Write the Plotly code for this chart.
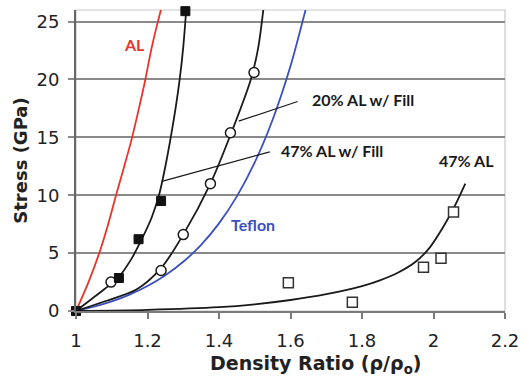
import plotly.graph_objects as go

# ---- data ----
al_x = [1, 1.035, 1.065, 1.09, 1.112, 1.135, 1.157, 1.176, 1.194, 1.21, 1.225, 1.24]
al_y = [0, 2.5, 5, 7.5, 10, 12.5, 15, 17.5, 20, 22.5, 24.5, 26.3]

fill47_line_x = [1, 1.04, 1.08, 1.12, 1.155, 1.187, 1.212, 1.233, 1.25, 1.265, 1.28, 1.29, 1.3, 1.309]
fill47_line_y = [0, 0.95, 1.9, 2.95, 4.5, 6.4, 8.1, 10.1, 12.5, 15, 17.8, 20, 22.8, 26.3]
fill47_pts_x = [1, 1.12, 1.175, 1.238, 1.306]
fill47_pts_y = [0, 2.85, 6.2, 9.5, 25.9]

fill20_line_x = [1, 1.077, 1.169, 1.238, 1.30, 1.376, 1.432, 1.489, 1.51, 1.525]
fill20_line_y = [0, 0.8, 1.85, 3.7, 6.6, 11.0, 15.2, 20.0, 22.8, 26.3]
fill20_pts_x = [1.098, 1.238, 1.30, 1.376, 1.432, 1.498]
fill20_pts_y = [2.5, 3.5, 6.6, 11.0, 15.4, 20.6]

teflon_x = [1, 1.05, 1.1, 1.15, 1.2, 1.25, 1.3, 1.35, 1.4, 1.45, 1.5, 1.55, 1.6, 1.645]
teflon_y = [0, 0.37, 0.83, 1.42, 2.16, 3.09, 4.25, 5.72, 7.57, 9.9, 12.83, 16.52, 21.16, 26.36]

al47_line_x = [1, 1.2, 1.4, 1.5, 1.6, 1.7, 1.8, 1.85, 1.9, 1.95, 1.99, 2.03, 2.06, 2.089]
al47_line_y = [0, 0.1, 0.33, 0.58, 0.95, 1.45, 2.15, 2.65, 3.3, 4.25, 5.5, 7.4, 9.1, 11.0]
al47_pts_x = [1.594, 1.773, 1.972, 2.021, 2.056]
al47_pts_y = [2.45, 0.75, 3.77, 4.55, 8.55]

x_ticks = [1, 1.2, 1.4, 1.6, 1.8, 2, 2.2]
x_tick_labels = ["1", "1.2", "1.4", "1.6", "1.8", "2", "2.2"]
y_ticks = [0, 5, 10, 15, 20, 25]

fig = go.Figure()

fig.add_trace(go.Scatter(x=al_x, y=al_y, mode="lines", line=dict(color="#e8352c", width=1.8, shape="spline", smoothing=0.8), showlegend=False))
fig.add_trace(go.Scatter(x=teflon_x, y=teflon_y, mode="lines", line=dict(color="#3b4fbf", width=1.8, shape="spline", smoothing=0.8), showlegend=False))
fig.add_trace(go.Scatter(x=fill47_line_x, y=fill47_line_y, mode="lines", line=dict(color="#1a1a1a", width=1.8, shape="spline", smoothing=0.8), showlegend=False))
fig.add_trace(go.Scatter(x=fill20_line_x, y=fill20_line_y, mode="lines", line=dict(color="#1a1a1a", width=1.8, shape="spline", smoothing=0.8), showlegend=False))
fig.add_trace(go.Scatter(x=al47_line_x, y=al47_line_y, mode="lines", line=dict(color="#1a1a1a", width=1.8, shape="spline", smoothing=0.8), showlegend=False))

fig.add_trace(go.Scatter(x=fill20_pts_x, y=fill20_pts_y, mode="markers", cliponaxis=False,
                         marker=dict(symbol="circle", size=10, color="white", line=dict(color="#1a1a1a", width=1.5)), showlegend=False))
fig.add_trace(go.Scatter(x=fill47_pts_x, y=fill47_pts_y, mode="markers", cliponaxis=False,
                         marker=dict(symbol="square", size=9, color="#111111", line=dict(color="#111111", width=1)), showlegend=False))
fig.add_trace(go.Scatter(x=al47_pts_x, y=al47_pts_y, mode="markers", cliponaxis=False,
                         marker=dict(symbol="square", size=10, color="white", line=dict(color="#333333", width=1.5)), showlegend=False))

ann_font = dict(family="Lato", size=16, color="#1a1a1a")
annotations = [
    dict(x=1.165, y=23.0, text="<b>AL</b>", font=dict(family="Lato", size=16, color="#e8352c")),
    dict(x=1.803, y=18.3, text="<b>20% AL w/ Fill</b>", font=ann_font),
    dict(x=1.716, y=13.9, text="<b>47% AL w/ Fill</b>", font=ann_font),
    dict(x=2.091, y=13.0, text="<b>47% AL</b>", font=ann_font),
    dict(x=1.494, y=7.5, text="<b>Teflon</b>", font=dict(family="Lato", size=16, color="#3b4fbf")),
]
for a in annotations:
    a.update(showarrow=False, xref="x", yref="y")
annotations.append(dict(
    x=0.558, y=-0.178, xref="paper", yref="paper", showarrow=False,
    xanchor="center", yanchor="middle",
    text="<b>Density Ratio (ρ/ρ<sub>o</sub>)</b>",
    font=dict(family="DejaVu Sans", size=19, color="#222222"),
))

shapes = [
    dict(type="line", xref="x", yref="y", x0=1.455, y0=16.4, x1=1.62, y1=18.1, line=dict(color="#1a1a1a", width=1.2)),
    dict(type="line", xref="x", yref="y", x0=1.24, y0=11.2, x1=1.542, y1=13.75, line=dict(color="#1a1a1a", width=1.2)),
    dict(type="rect", xref="paper", yref="paper", x0=0, y0=0, x1=1, y1=1, line=dict(color="#c8c8c8", width=1.2), layer="below"),
]

fig.update_layout(
    width=529, height=377,
    margin=dict(l=76, r=16, t=10, b=66),
    paper_bgcolor="white", plot_bgcolor="white",
    font=dict(family="DejaVu Sans", size=18, color="#222222"),
    annotations=annotations, shapes=shapes,
    showlegend=False,
)
fig.update_xaxes(
    range=[1, 2.2], tickvals=x_ticks, ticktext=x_tick_labels,
    showgrid=False, zeroline=False, showline=True, linecolor="#7a7a7a", linewidth=2,
    ticks="outside", ticklen=6, tickcolor="#7a7a7a", tickwidth=1.5, ticklabelstandoff=6,
    tickfont=dict(family="DejaVu Sans", size=18, color="#222222"),
)
fig.update_yaxes(
    range=[0, 26], tickvals=y_ticks,
    showgrid=True, gridcolor="#8a8a8a", gridwidth=2, zeroline=False,
    showline=True, linecolor="#666666", linewidth=2,
    ticks="outside", ticklen=6, tickcolor="#8a8a8a", tickwidth=2, ticklabelstandoff=5,
    tickfont=dict(family="DejaVu Sans", size=18, color="#222222"),
    title=dict(text="<b>Stress (GPa)</b>", font=dict(family="DejaVu Sans", size=18, color="#222222"), standoff=4),
)

fig.write_html("out.html")
